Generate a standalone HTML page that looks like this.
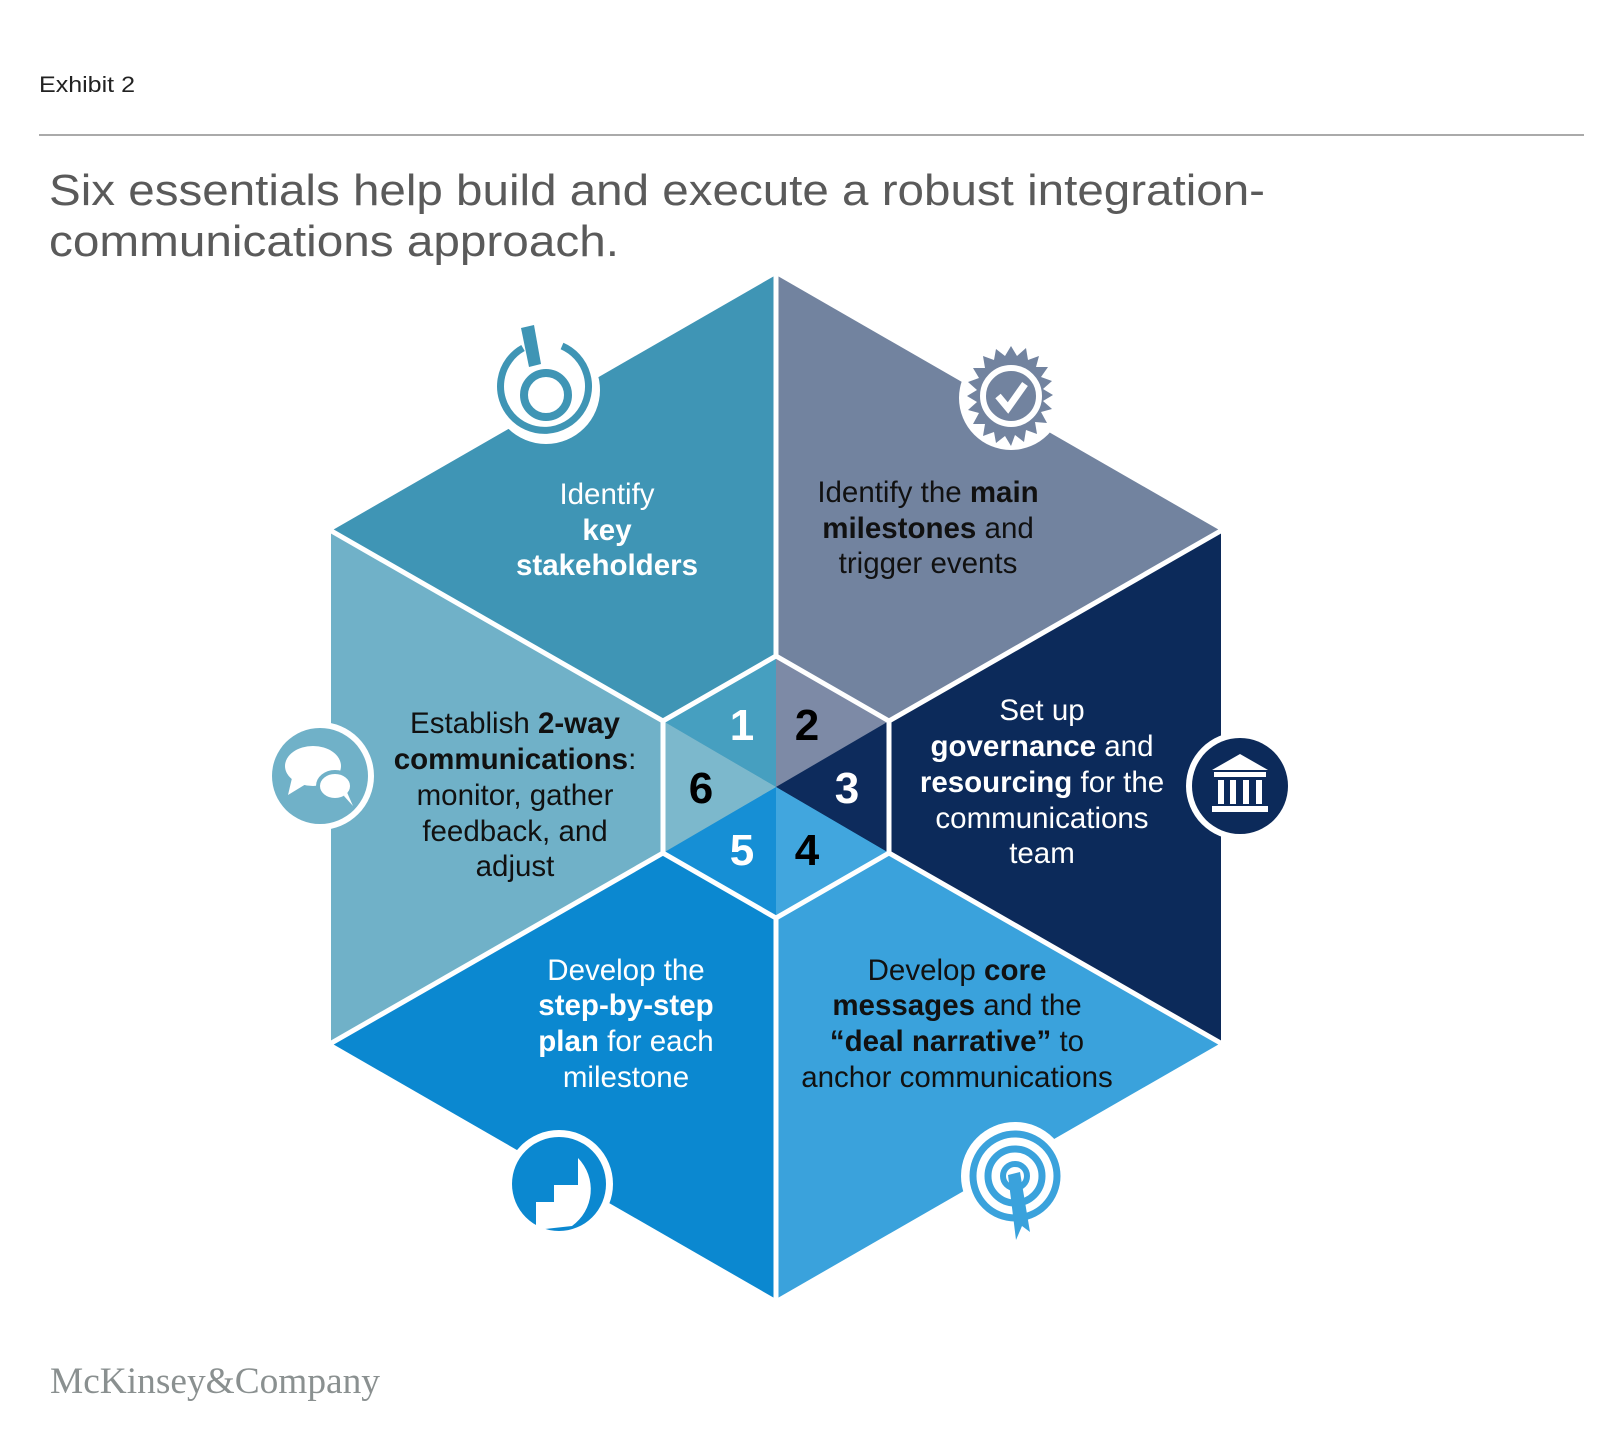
<!DOCTYPE html>
<html><head><meta charset="utf-8"><style>
html,body{margin:0;padding:0;background:#fff;}
svg{display:block;}
.s{font-family:"Liberation Sans",Arial,sans-serif;}
</style></head><body>
<svg width="1600" height="1447" viewBox="0 0 1600 1447" xmlns="http://www.w3.org/2000/svg" class="s">
<text x="39" y="92" font-size="22" fill="#222" textLength="96" lengthAdjust="spacingAndGlyphs">Exhibit 2</text>
<line x1="39" y1="135" x2="1584" y2="135" stroke="#aaa" stroke-width="2"/>
<text x="49" y="205" font-size="44" fill="#5a5a5a" textLength="1216" lengthAdjust="spacingAndGlyphs">Six essentials help build and execute a robust integration-</text>
<text x="49" y="256" font-size="44" fill="#5a5a5a" textLength="570" lengthAdjust="spacingAndGlyphs">communications approach.</text>

<g>
<polygon points="776,787 776,275 331,531" fill="#3f95b5"/>
<polygon points="776,787 1221,531 776,275" fill="#72839f"/>
<polygon points="776,787 1221,1043 1221,531" fill="#0c2a5a"/>
<polygon points="776,787 776,1299 1221,1043" fill="#3aa2dc"/>
<polygon points="776,787 331,1043 776,1299" fill="#0b88d0"/>
<polygon points="776,787 331,531 331,1043" fill="#70b1c8"/>
</g>
<g>
<polygon points="776,787 776,656 663,721" fill="#469fc0"/>
<polygon points="776,787 889,721 776,656" fill="#7d8aa6"/>
<polygon points="776,787 889,853 889,721" fill="#0d2b5c"/>
<polygon points="776,787 776,918 889,853" fill="#41a6de"/>
<polygon points="776,787 663,853 776,918" fill="#168fd5"/>
<polygon points="776,787 663,721 663,853" fill="#7cb8cc"/>
</g>
<g stroke="#fff" stroke-width="5" fill="none">
<polygon points="776,656 889,721 889,853 776,918 663,853 663,721"/>
<line x1="776" y1="656" x2="776" y2="272"/>
<line x1="889" y1="721" x2="1224" y2="529"/>
<line x1="889" y1="853" x2="1224" y2="1045"/>
<line x1="776" y1="918" x2="776" y2="1302"/>
<line x1="663" y1="853" x2="328" y2="1045"/>
<line x1="663" y1="721" x2="328" y2="529"/>
</g>

<g font-size="44" font-weight="bold" text-anchor="middle">
<text x="742" y="740" fill="#fff">1</text>
<text x="807" y="740" fill="#000">2</text>
<text x="847" y="803" fill="#fff">3</text>
<text x="807" y="865" fill="#000">4</text>
<text x="742" y="865" fill="#fff">5</text>
<text x="701" y="803" fill="#000">6</text>
</g>

<g font-size="29.5" text-anchor="middle">
<text x="607" y="504" fill="#fff">Identify</text>
<text x="607" y="540" fill="#fff" font-weight="bold">key</text>
<text x="607" y="575" fill="#fff" font-weight="bold">stakeholders</text>

<text x="928" y="502" fill="#111">Identify the <tspan font-weight="bold">main</tspan></text>
<text x="928" y="538" fill="#111"><tspan font-weight="bold">milestones</tspan> and</text>
<text x="928" y="573" fill="#111">trigger events</text>

<text x="1042" y="720" fill="#fff">Set up</text>
<text x="1042" y="756" fill="#fff"><tspan font-weight="bold">governance</tspan> and</text>
<text x="1042" y="792" fill="#fff"><tspan font-weight="bold">resourcing</tspan> for the</text>
<text x="1042" y="828" fill="#fff">communications</text>
<text x="1042" y="863" fill="#fff">team</text>

<text x="515" y="733" fill="#111">Establish <tspan font-weight="bold">2-way</tspan></text>
<text x="515" y="769" fill="#111"><tspan font-weight="bold">communications</tspan>:</text>
<text x="515" y="805" fill="#111">monitor, gather</text>
<text x="515" y="841" fill="#111">feedback, and</text>
<text x="515" y="876" fill="#111">adjust</text>

<text x="626" y="980" fill="#fff">Develop the</text>
<text x="626" y="1015" fill="#fff" font-weight="bold">step-by-step</text>
<text x="626" y="1051" fill="#fff"><tspan font-weight="bold">plan</tspan> for each</text>
<text x="626" y="1087" fill="#fff">milestone</text>

<text x="957" y="980" fill="#111">Develop <tspan font-weight="bold">core</tspan></text>
<text x="957" y="1015" fill="#111"><tspan font-weight="bold">messages</tspan> and the</text>
<text x="957" y="1051" fill="#111"><tspan font-weight="bold">“deal narrative”</tspan> to</text>
<text x="957" y="1087" fill="#111">anchor communications</text>
</g>

<g>
<circle cx="546" cy="390" r="54" fill="#fff"/>
<path d="M523,348 A44,44 0 1 0 562,346" fill="none" stroke="#3f95b5" stroke-width="7"/>
<circle cx="546" cy="395" r="22" fill="none" stroke="#3f95b5" stroke-width="8"/>
<polygon points="521,328 534,325 541,364 529,367" fill="#3f95b5"/>
</g>
<g>
<circle cx="1011" cy="398" r="52" fill="#fff"/>
<polygon fill="#72839f" points="1011,346 1017,356 1026,348 1028,360 1039,356 1036,367 1048,367 1041,377 1052,381 1043,389 1053,395 1043,401 1052,409 1041,412 1047,423 1035,422 1037,434 1026,430 1024,442 1015,435 1011,446 1005,436 996,443 994,432 983,436 985,424 973,424 979,413 968,410 977,402 967,396 977,390 968,382 979,378 973,368 985,368 983,356 994,360 996,349 1005,356"/>
<circle cx="1011" cy="396" r="28" fill="none" stroke="#fff" stroke-width="6"/>
<path d="M998,396 L1008,408 L1025,384" fill="none" stroke="#fff" stroke-width="7"/>
</g>
<g>
<circle cx="1240" cy="786" r="54" fill="#fff"/>
<circle cx="1240" cy="786" r="48" fill="#0c2a5a"/>
<polygon points="1212,770 1240,754 1268,770" fill="#fff"/>
<rect x="1214" y="772" width="52" height="5" fill="#fff"/>
<rect x="1218" y="780" width="6" height="24" fill="#fff"/>
<rect x="1230" y="780" width="6" height="24" fill="#fff"/>
<rect x="1243" y="780" width="6" height="24" fill="#fff"/>
<rect x="1256" y="780" width="6" height="24" fill="#fff"/>
<rect x="1212" y="806" width="56" height="6" fill="#fff"/>
</g>
<g>
<circle cx="320" cy="776" r="54" fill="#fff"/>
<circle cx="320" cy="776" r="48" fill="#70b1c8"/>
<ellipse cx="313" cy="766" rx="28" ry="20" fill="#fff"/>
<polygon points="292,778 288,795 306,784" fill="#fff"/>
<ellipse cx="335" cy="786" rx="17" ry="14" fill="#fff" stroke="#70b1c8" stroke-width="4"/>
<polygon points="344,796 353,806 346,790" fill="#fff"/>
</g>
<g>
<circle cx="559" cy="1184" r="54" fill="#fff"/>
<circle cx="559" cy="1184" r="47" fill="#0b88d0"/>
<path d="M578,1166 L578,1158 A45,45 0 0 1 572,1226 L536,1230 L536,1202 L554,1202 L554,1185 L578,1185 Z" fill="#fff"/>
</g>
<g>
<circle cx="1015" cy="1176" r="54" fill="#fff"/>
<circle cx="1015" cy="1176" r="42" fill="none" stroke="#3aa2dc" stroke-width="7"/>
<circle cx="1015" cy="1176" r="27" fill="none" stroke="#3aa2dc" stroke-width="7"/>
<circle cx="1015" cy="1176" r="12" fill="none" stroke="#3aa2dc" stroke-width="6"/>
<polygon points="1008,1175 1020,1172 1030,1232 1022,1226 1016,1240" fill="#3aa2dc"/>
</g>

<text x="50" y="1393" style="font-family:'Liberation Serif',serif" font-size="37" fill="#8a9090" textLength="330" lengthAdjust="spacingAndGlyphs">McKinsey&amp;Company</text>
</svg>
</body></html>
